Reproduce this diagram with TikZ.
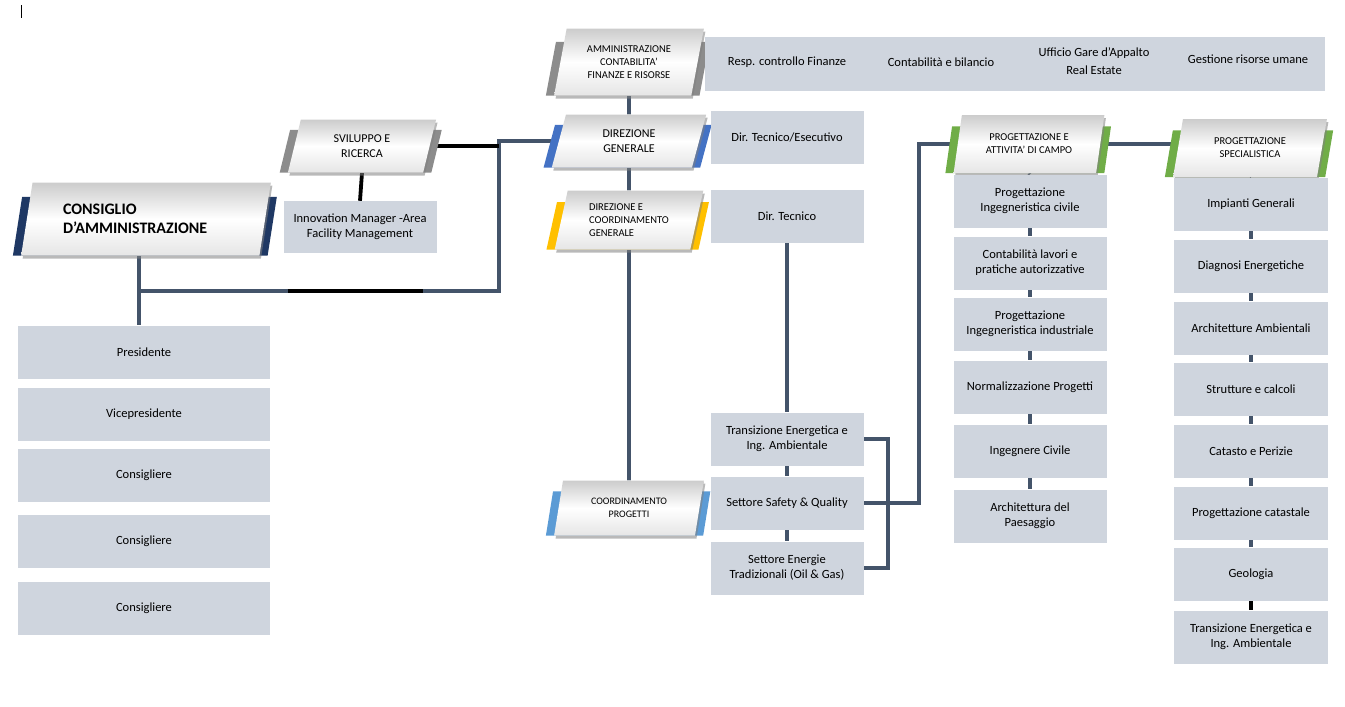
\documentclass[tikz,border=0pt]{standalone}
\usepackage{fontspec}
\setmainfont{Carlito}
\usetikzlibrary{shapes.geometric,shadows,backgrounds,calc}

\definecolor{slate}{RGB}{68,84,106}
\definecolor{boxgray}{RGB}{207,213,222}
\definecolor{navy}{RGB}{31,56,100}
\definecolor{stripgray}{RGB}{140,140,140}
\definecolor{stripblue}{RGB}{68,114,196}
\definecolor{stripgold}{RGB}{255,192,0}
\definecolor{striplblue}{RGB}{91,155,213}
\definecolor{stripgreen}{RGB}{112,173,71}

\newcommand{\boxfont}{\fontsize{12.5}{15}\selectfont}
\newcommand{\hdrfont}{\fontsize{10.5}{13}\selectfont}

\tikzset{
  hdr/.style={trapezium, trapezium left angle=76, trapezium right angle=104,
    trapezium stretches=true, minimum width=150pt, minimum height=56pt,
    inner sep=1pt, align=center, font=\hdrfont,
    top color=gray!40, bottom color=gray!20, middle color=white,
    drop shadow={opacity=0.55, shadow xshift=1.5pt, shadow yshift=-3pt}},
  box/.style={rectangle, fill=boxgray, minimum width=153pt, minimum height=53pt,
    inner sep=2pt, align=center, font=\boxfont},
  conn/.style={draw=slate, line width=3.8pt},
  connk/.style={draw=black, line width=3.8pt},
}

\begin{document}
\begin{tikzpicture}[x=1pt,y=-1pt]
\useasboundingbox (0,0) rectangle (1345,707);
\draw[line width=0.8pt] (21,5) -- (21,18);

% consiglio
\node[hdr, minimum width=250pt, minimum height=73pt, trapezium left angle=75,
  trapezium right angle=105, align=left, text width=166pt,
  font=\fontsize{16}{19}\selectfont\bfseries] (cda) at (146,219) {CONSIGLIO\\D’AMMINISTRAZIONE};
\foreach \y/\t [count=\i] in {352/Presidente, 414/Vicepresidente, 475/Consigliere,
  541/Consigliere, 608/Consigliere}
  \node[box, minimum width=252pt] (m\i) at (144,\y) {\t};

% sviluppo
\node[hdr, minimum width=149pt, minimum height=53pt,
  font=\fontsize{12}{15}\selectfont] (svr) at (362,146) {SVILUPPO E\\RICERCA};
\node[box, minimum height=52pt] (inn) at (360,227) {Innovation Manager -Area\\Facility Management};

% amministrazione
\node[box, minimum width=620pt, minimum height=54pt] (riga) at (1015,64) {};
\node[font=\boxfont] (r1) at (787,62) {Resp. controllo Finanze};
\node[font=\boxfont] (r2) at (941,62) {Contabilità e bilancio};
\node[font=\boxfont, align=center] (r3) at (1094,61) {Ufficio Gare d’Appalto\\[3pt]Real Estate};
\node[font=\boxfont] (r4) at (1248,59) {Gestione risorse umane};
\node[hdr, minimum height=67pt] (amm) at (629,62) {AMMINISTRAZIONE\\CONTABILITA’\\FINANZE E RISORSE};

% direzione
\node[hdr, minimum width=155pt, minimum height=53pt,
  font=\fontsize{12}{15}\selectfont] (dg) at (629,141) {DIREZIONE\\GENERALE};
\node[box] (dte) at (787,137) {Dir. Tecnico/Esecutivo};
\node[hdr, align=left, minimum height=59pt] (dcg) at (629,220) {DIREZIONE E\\COORDINAMENTO\\GENERALE};
\node[box] (dt) at (787,216) {Dir. Tecnico};
\node[box] (tea) at (787,439) {Transizione Energetica e\\Ing. Ambientale};
\node[box] (ssq) at (787,503) {Settore Safety \& Quality};
\node[box] (seo) at (787,568) {Settore Energie\\Tradizionali (Oil \& Gas)};
\node[hdr, minimum height=55pt,
  font=\fontsize{10}{12.5}\selectfont] (cp) at (629,508) {COORDINAMENTO\\PROGETTI};

% progettazione
\node[hdr, minimum width=152pt, minimum height=58pt] (pac) at (1029,144) {PROGETTAZIONE E\\ATTIVITA’ DI CAMPO};
\node[hdr, minimum width=154pt, minimum height=58pt] (ps) at (1250,148) {PROGETTAZIONE\\SPECIALISTICA};
\foreach \y/\t [count=\i] in {201/{Progettazione\\Ingegneristica civile},
  263/{Contabilità lavori e\\pratiche autorizzative},
  324/{Progettazione\\Ingegneristica industriale},
  387/{Normalizzazione Progetti}, 451/{Ingegnere Civile},
  516/{Architettura del\\Paesaggio}}
  \node[box] (p\i) at (1030,\y) {\t};
\foreach \y/\t [count=\i] in {204/{Impianti Generali}, 266/{Diagnosi Energetiche},
  328/{Architetture Ambientali}, 389/{Strutture e calcoli}, 451/{Catasto e Perizie},
  513/{Progettazione catastale}, 574/{Geologia},
  637/{Transizione Energetica e\\Ing. Ambientale}}
  \node[box, minimum width=154pt] (s\i) at (1251,\y) {\t};

\begin{scope}[on background layer]
\coordinate (j1) at ([xshift=-7pt]cda.south |- 0,291);
\coordinate (j2) at (499,291);
\draw[conn] ([xshift=-7pt]cda.south) -- (j1 |- m1.north);
\draw[conn] (j1) -- (j2) |- (dg.west);
\draw[connk] (svr.bottom left corner |- j1) -- (svr.bottom right corner |- j1);
\draw[connk] (svr.east) -- (svr.east -| j2);
\draw[connk] (svr.south) -- (inn.north);
\draw[conn] (amm.south) -- (dg.north) (dg.south) -- (dcg.north) (dcg.south) -- (cp.north);
\draw[conn] (dt.south) -- (tea.north) (tea.south) -- (ssq.north) (ssq.south) -- (seo.north);
\draw[conn] (tea.east) -- ++(24,0) |- (seo.east);
\draw[conn] (ssq.east) -- ++(55,0) |- (pac.west);
\draw[conn] (pac.east) -- (pac.east -| ps.west);
\draw[conn] (pac.south) -- (p1.north);
\foreach \i [evaluate=\i as \j using int(\i+1)] in {1,...,5}
  \draw[conn] (p\i.south) -- (p\j.north);
\draw[conn] (ps.south) -- (s1.north);
\foreach \i [evaluate=\i as \j using int(\i+1)] in {1,...,6}
  \draw[conn] (s\i.south) -- (s\j.north);
\draw[connk] (s7.south) -- (s8.north);
% bande colorate
\foreach \n/\c in {cda/navy, svr/stripgray, amm/stripgray, dg/stripblue,
  dcg/stripgold, cp/striplblue, pac/stripgreen, ps/stripgreen}
  \fill[\c] ($(\n.bottom left corner)+(-8,0)$)
    -- ($(\n.bottom left corner)!0.8!(\n.top left corner)+(-8,0)$)
    -- ($(\n.bottom right corner)!0.8!(\n.top right corner)+(8,0)$)
    -- ($(\n.bottom right corner)+(8,0)$) -- cycle;
\end{scope}
\end{tikzpicture}
\end{document}
